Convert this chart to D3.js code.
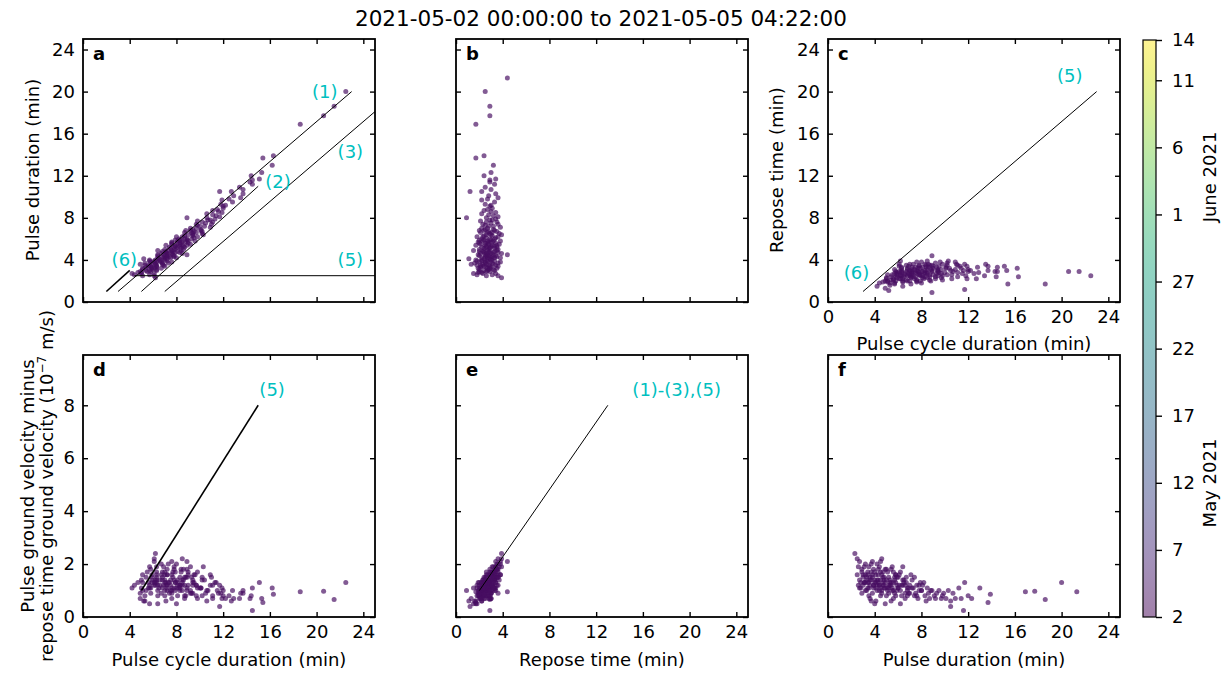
<!DOCTYPE html>
<html>
<head>
<meta charset="utf-8">
<script src="https://cdn.jsdelivr.net/npm/d3@7"></script>
<style>
  body { margin: 0; background: #fff; }
  svg { font-family: "DejaVu Sans", Verdana, sans-serif; }
</style>
</head>
<body>
<svg id="chart" width="1231" height="677"></svg>
<script>
// ---- data (one entry per pulse cycle) ----
const pulseDuration = [
  2.3, 2.5, 2.6, 2.7, 2.8, 2.7, 2.9, 3.0, 2.6, 2.9, 2.5, 2.8, 3.0, 2.9, 2.7,
  3.1, 3.2, 3.3, 3.4, 3.5, 3.6, 3.7, 3.8, 3.9, 3.1, 3.2, 3.3, 3.4, 3.5, 3.6, 3.7, 3.8, 3.9,
  3.0, 3.2, 3.4, 3.6, 3.8, 3.3, 3.5, 3.7, 3.9, 3.1, 3.6, 3.4, 3.8, 3.2, 3.7, 3.5, 3.9,
  4.0, 4.1, 4.2, 4.3, 4.4, 4.5, 4.6, 4.7, 4.8, 4.9, 4.0, 4.1, 4.2, 4.3, 4.4, 4.5, 4.6, 4.7, 4.8, 4.9,
  4.0, 4.2, 4.4, 4.6, 4.8, 4.1, 4.3, 4.5, 4.7, 4.9, 4.0, 4.2, 4.4, 4.6, 4.8, 4.3, 4.5, 4.7, 4.9, 4.1,
  5.0, 5.1, 5.2, 5.3, 5.4, 5.5, 5.6, 5.7, 5.8, 5.9, 5.0, 5.1, 5.2, 5.3, 5.4, 5.5, 5.6, 5.7, 5.8, 5.9,
  5.0, 5.2, 5.4, 5.6, 5.8, 5.1, 5.3, 5.5, 5.7, 5.9, 4.5, 5.2, 5.4, 5.6, 5.8,
  6.0, 6.1, 6.2, 6.3, 6.4, 6.5, 6.6, 6.7, 6.8, 6.9, 6.0, 6.2, 6.4, 6.6, 6.8,
  6.1, 6.3, 6.5, 6.7, 6.9, 6.2, 6.4, 6.6, 6.8, 6.0,
  7.0, 7.2, 7.4, 7.6, 7.8, 7.1, 7.3, 7.5, 7.7, 7.9, 7.0, 7.2, 7.4, 7.6, 7.8,
  8.0, 8.2, 8.4, 8.6, 8.8, 8.1, 8.3, 8.5, 8.7, 8.9,
  9.1, 9.3, 9.5, 9.7, 9.9, 9.2, 9.8,
  10.1, 10.3, 10.5, 10.7, 10.9,
  11.2, 11.4, 11.6, 11.7, 12.0, 12.3,
  13.0, 13.7, 13.9, 16.9, 17.7, 18.6, 20.0, 21.3, 8.0, 10.5
];
const reposeTime = [
  3.9, 2.6, 1.8, 3.4, 2.2, 1.5, 2.9, 2.4, 3.1, 2.0, 3.6, 1.9, 3.3, 2.6, 2.3,
  2.8, 3.5, 2.1, 2.9, 1.8, 3.2, 2.5, 3.8, 2.2, 2.0, 2.7, 3.0, 2.4, 3.4, 2.6, 1.6, 2.9, 3.3,
  2.7, 1.9, 3.6, 2.3, 2.0, 2.6, 2.8, 3.1, 2.7, 3.2, 1.3, 2.2, 2.5, 2.9, 3.6, 2.1, 1.8,
  2.6, 3.1, 2.2, 3.5, 2.8, 1.9, 3.0, 2.4, 3.3, 2.7, 1.7, 2.9, 3.8, 2.5, 2.0, 3.2, 2.6, 3.6, 2.3, 1.5,
  3.0, 2.7, 3.4, 2.1, 2.9, 2.4, 3.1, 2.5, 2.8, 3.5, 2.2, 3.3, 2.6, 3.9, 2.0, 2.9, 2.7, 3.2, 2.4, 1.1,
  2.8, 3.3, 2.2, 3.0, 2.5, 3.7, 2.7, 1.9, 3.2, 2.4, 2.0, 2.9, 3.5, 2.6, 3.1, 2.1, 3.4, 2.8, 2.3, 3.0,
  3.6, 2.9, 1.7, 2.5, 3.8, 2.4, 3.3, 2.8, 3.1, 2.0, 4.4, 2.6, 3.5, 2.0, 2.7,
  2.9, 3.4, 2.3, 3.1, 2.6, 3.7, 2.1, 2.8, 3.3, 2.5, 2.2, 3.6, 3.0, 2.7, 2.0,
  2.6, 2.4, 2.9, 3.5, 3.2, 1.8, 3.9, 3.1, 2.4, 3.3,
  2.7, 3.2, 2.3, 3.5, 2.9, 3.8, 2.5, 3.0, 2.1, 3.4, 2.2, 2.8, 3.6, 2.6, 3.1,
  2.6, 3.2, 2.2, 3.0, 2.7, 3.6, 2.8, 3.4, 2.4, 3.1,
  2.9, 2.5, 3.3, 2.2, 3.6, 3.0, 2.7,
  2.8, 3.4, 2.2, 3.0, 2.5,
  3.3, 2.9, 2.9, 3.4, 2.4, 3.0,
  3.2, 1.7, 2.4, 1.7, 2.9, 2.9, 2.5, 4.4, 0.9, 1.2
];
const cycleDuration = [
  6.2, 5.1, 4.4, 6.1, 5.0, 4.2, 5.8, 5.4, 5.7, 4.9, 6.1, 4.7, 6.3, 5.5, 5.0,
  5.9, 6.7, 5.4, 6.3, 5.3, 6.8, 6.2, 7.6, 6.1, 5.1, 5.9, 6.3, 5.8, 6.9, 6.2, 5.3, 6.7, 7.2,
  5.7, 5.1, 7.0, 5.9, 5.8, 5.9, 6.3, 6.8, 6.6, 6.3, 4.9, 5.6, 6.3, 6.1, 7.3, 5.6, 5.7,
  6.6, 7.2, 6.4, 7.8, 7.2, 6.4, 7.6, 7.1, 8.1, 7.6, 5.7, 7.0, 8.0, 6.8, 6.4, 7.7, 7.2, 8.3, 7.1, 6.4,
  7.0, 6.9, 7.8, 6.7, 7.7, 6.5, 7.4, 7.0, 7.5, 8.4, 6.2, 7.5, 7.0, 8.5, 6.8, 7.2, 7.2, 7.9, 7.3, 5.2,
  7.8, 8.4, 7.4, 8.3, 7.9, 9.2, 8.3, 7.6, 9.0, 8.3, 7.0, 8.0, 8.7, 7.9, 8.5, 7.6, 9.0, 8.5, 8.1, 8.9,
  8.6, 8.1, 7.1, 8.1, 9.6, 7.5, 8.6, 8.3, 8.8, 7.9, 8.9, 7.8, 8.9, 7.6, 8.5,
  8.9, 9.5, 8.5, 9.4, 9.0, 10.2, 8.7, 9.5, 10.1, 9.4, 8.2, 9.8, 9.4, 9.3, 8.8,
  8.7, 8.7, 9.4, 10.2, 10.1, 8.0, 10.3, 9.7, 9.2, 9.3,
  9.7, 10.4, 9.7, 11.1, 10.7, 10.9, 9.8, 10.5, 9.8, 11.3, 9.2, 10.0, 11.0, 10.2, 10.9,
  10.6, 11.4, 10.6, 11.6, 11.5, 11.7, 11.1, 11.9, 11.1, 12.0,
  12.0, 11.8, 12.8, 11.9, 13.5, 12.2, 12.5,
  12.9, 13.7, 12.7, 13.7, 13.4,
  14.5, 14.3, 14.5, 15.1, 14.4, 15.3,
  16.2, 15.4, 16.3, 18.6, 20.6, 21.5, 22.5, 25.7, 8.9, 11.7
];
// pulse ground velocity minus repose-time ground velocity, 1e-7 m/s
const velocityDiff = [
  2.4, 1.6, 1.2, 2.1, 1.1, 1.1, 1.8, 1.5, 1.9, 0.9, 2.2, 1.3, 1.6, 1.7, 1.4,
  1.3, 2.0, 1.0, 1.7, 0.8, 1.5, 1.4, 2.1, 1.2, 1.3, 1.6, 1.4, 1.1, 1.9, 1.2, 0.6, 1.6, 1.8,
  1.2, 1.0, 1.6, 1.4, 0.9, 1.5, 1.3, 1.7, 1.2, 1.9, 0.7, 1.3, 1.5, 1.3, 2.0, 1.1, 1.1,
  1.4, 1.6, 1.0, 1.8, 1.2, 0.8, 1.6, 1.3, 1.4, 1.1, 0.5, 1.3, 2.0, 1.4, 1.2, 1.7, 1.0, 1.5, 1.2, 0.5,
  1.7, 1.2, 1.9, 0.9, 1.5, 1.1, 1.3, 1.4, 1.2, 1.8, 1.3, 1.4, 1.0, 2.2, 1.1, 1.6, 1.1, 1.7, 1.3, 0.6,
  1.4, 1.7, 0.9, 1.2, 1.3, 1.9, 1.0, 0.9, 1.6, 1.2, 0.8, 1.1, 1.5, 1.3, 1.2, 1.0, 1.7, 1.4, 0.8, 1.5,
  1.8, 1.2, 0.6, 1.3, 1.6, 1.0, 1.4, 1.1, 1.5, 1.0, 2.1, 1.1, 1.8, 0.7, 1.3,
  1.1, 1.6, 1.0, 1.2, 1.2, 1.4, 0.7, 1.3, 1.1, 0.9, 1.1, 1.7, 1.4, 0.9, 0.8,
  1.2, 0.8, 1.3, 1.5, 1.1, 0.5, 1.9, 1.2, 1.0, 1.5,
  1.2, 1.4, 0.8, 1.2, 1.0, 1.6, 1.1, 0.9, 0.7, 1.3, 0.9, 1.1, 1.5, 0.8, 1.2,
  1.0, 1.3, 0.6, 0.9, 1.0, 1.2, 0.8, 1.1, 0.7, 1.0,
  0.8, 0.9, 1.0, 0.7, 0.9, 0.7, 0.8,
  0.7, 1.0, 0.6, 0.9, 0.7,
  1.1, 0.7, 0.25, 1.3, 0.8, 0.7,
  1.1, 0.55, 0.86, 0.95, 0.97, 0.66, 1.3, 0.95, 1.0, 0.4
];

const windowStart = "2021-05-02 00:00:00";
const windowEnd = "2021-05-05 04:22:00";

const xTicks = [0, 4, 8, 12, 16, 20, 24];
const durationTicks = [0, 4, 8, 12, 16, 20, 24];
const velocityTicks = [0, 2, 4, 6, 8];
const colorbarTicks = ["2021-05-02", "2021-05-07", "2021-05-12", "2021-05-17", "2021-05-22",
                       "2021-05-27", "2021-06-01", "2021-06-06", "2021-06-11", "2021-06-14"];
const colorbarRange = ["2021-05-02", "2021-06-14"];

// guide lines, in data units of each panel
const guidesA = [[[3, 1], [23, 20]], [[5, 1], [15, 11]], [[7, 1], [25, 18.1]], [[4.4, 2.5], [25, 2.5]], [[2, 1], [4, 3]]];
const guidesC = [[[3, 1], [23, 20]]];
const guidesD = [[[5, 1], [15, 8]]];
const guidesE = [[[2, 1], [13, 8]]];

const notesA = [["(1)", 19.6, 20.0], ["(2)", 15.6, 11.5], ["(3)", 21.8, 14.3], ["(5)", 21.8, 4.0], ["(6)", 2.45, 4.0]];
const notesC = [["(5)", 19.6, 21.5], ["(6)", 1.35, 2.8]];
const notesD = [["(5)", 15.1, 8.6]];
const notesE = [["(1)-(3),(5)", 15.1, 8.6]];

// ---- layout ----
const COL_LEFT = [83, 456, 828];
const PANEL_W = 292;
const ROW_BOX = [{ top: 39, bottom: 302 }, { top: 355, bottom: 617 }];
const TICK_FONT = 18;
const CYAN = '#00bfbf';

const svg = d3.select('#chart');
const parseDay = d3.timeParse('%Y-%m-%d');
const parseFull = d3.timeParse('%Y-%m-%d %H:%M:%S');

const colorScale = d3.scaleSequential(d3.interpolateViridis)
    .domain(colorbarRange.map(parseDay));
const t0 = parseFull(windowStart), t1 = parseFull(windowEnd);
const pointColor = colorScale(new Date((+t0 + +t1) / 2));

const series = { cycle: cycleDuration, pulse: pulseDuration, repose: reposeTime, velocity: velocityDiff };

const panels = [
    { letter: 'a', col: 0, row: 0, xKey: 'cycle',  yKey: 'pulse',    xLab: false, yLab: true,  guides: guidesA, notes: notesA },
    { letter: 'b', col: 1, row: 0, xKey: 'repose', yKey: 'pulse',    xLab: false, yLab: false, guides: [],      notes: [] },
    { letter: 'c', col: 2, row: 0, xKey: 'cycle',  yKey: 'repose',   xLab: true,  yLab: true,  guides: guidesC, notes: notesC },
    { letter: 'd', col: 0, row: 1, xKey: 'cycle',  yKey: 'velocity', xLab: true,  yLab: true,  guides: guidesD, notes: notesD },
    { letter: 'e', col: 1, row: 1, xKey: 'repose', yKey: 'velocity', xLab: true,  yLab: false, guides: guidesE, notes: notesE },
    { letter: 'f', col: 2, row: 1, xKey: 'pulse',  yKey: 'velocity', xLab: true,  yLab: false, guides: [],      notes: [] }
];

function styleAxis (g) {
    g.select('.domain').remove();
    g.selectAll('.tick line').attr('stroke', '#000').attr('stroke-width', 1.4);
    g.selectAll('.tick text')
        .attr('font-family', '"DejaVu Sans", Verdana, sans-serif')
        .attr('font-size', TICK_FONT)
        .attr('fill', '#000');
}

panels.forEach(p => {
    let left = COL_LEFT[p.col];
    let box = ROW_BOX[p.row];

    let x = d3.scaleLinear().domain([0, 25]).range([left, left + PANEL_W]);
    let y = d3.scaleLinear()
        .domain(p.row === 0 ? [0, 25] : [0, 9.9])
        .range([box.bottom, box.top]);
    let yTicks = p.row === 0 ? durationTicks : velocityTicks;

    let g = svg.append('g');
    let clipId = 'clip-' + p.letter;

    g.append('clipPath').attr('id', clipId)
        .append('rect')
        .attr('x', left).attr('y', box.top)
        .attr('width', PANEL_W).attr('height', box.bottom - box.top);

    // points
    let xs = series[p.xKey], ys = series[p.yKey];
    g.append('g')
        .attr('clip-path', `url(#${clipId})`)
        .selectAll('circle')
        .data(d3.range(xs.length))
        .join('circle')
        .attr('cx', i => x(xs[i]))
        .attr('cy', i => y(ys[i]))
        .attr('r', 2.5)
        .attr('fill', pointColor)
        .attr('fill-opacity', 0.68);

    // guide lines
    let line = d3.line().x(d => x(d[0])).y(d => y(d[1]));
    g.append('g')
        .attr('clip-path', `url(#${clipId})`)
        .selectAll('path')
        .data(p.guides)
        .join('path')
        .attr('d', line)
        .attr('fill', 'none')
        .attr('stroke', '#000')
        .attr('stroke-width', (d, i) => (p.letter === 'd' || (p.letter === 'a' && i === 4)) ? 1.6 : 1);

    // cyan labels
    g.selectAll('text.note')
        .data(p.notes)
        .join('text')
        .attr('class', 'note')
        .attr('x', d => x(d[1]))
        .attr('y', d => y(d[2]))
        .attr('dy', '0.36em')
        .attr('fill', CYAN)
        .attr('font-size', TICK_FONT)
        .text(d => d[0]);

    // axes, ticks pointing inward on every side
    g.append('g')
        .attr('transform', `translate(0,${box.bottom})`)
        .call(d3.axisBottom(x).tickValues(xTicks).tickSizeInner(-5).tickSizeOuter(0).tickPadding(8)
            .tickFormat(p.xLab ? d3.format('d') : ''))
        .call(styleAxis);
    g.append('g')
        .attr('transform', `translate(0,${box.top})`)
        .call(d3.axisTop(x).tickValues(xTicks).tickSizeInner(-5).tickSizeOuter(0).tickFormat(''))
        .call(styleAxis);
    g.append('g')
        .attr('transform', `translate(${left},0)`)
        .call(d3.axisLeft(y).tickValues(yTicks).tickSizeInner(-5).tickSizeOuter(0).tickPadding(8)
            .tickFormat(p.yLab ? d3.format('d') : ''))
        .call(styleAxis);
    g.append('g')
        .attr('transform', `translate(${left + PANEL_W},0)`)
        .call(d3.axisRight(y).tickValues(yTicks).tickSizeInner(-5).tickSizeOuter(0).tickFormat(''))
        .call(styleAxis);

    // frame
    g.append('rect')
        .attr('x', left).attr('y', box.top)
        .attr('width', PANEL_W).attr('height', box.bottom - box.top)
        .attr('fill', 'none')
        .attr('stroke', '#000')
        .attr('stroke-width', 1.8);

    // panel letter
    g.append('text')
        .attr('x', left + 10)
        .attr('y', box.top + 21)
        .attr('font-size', 18)
        .attr('font-weight', 'bold')
        .text(p.letter);
});

// ---- axis titles ----
function yTitle (xPos, yPos, str) {
    return svg.append('text')
        .attr('transform', `translate(${xPos},${yPos}) rotate(-90)`)
        .attr('text-anchor', 'middle')
        .attr('font-size', TICK_FONT)
        .text(str);
}
function xTitle (xPos, yPos, str) {
    svg.append('text')
        .attr('x', xPos).attr('y', yPos)
        .attr('text-anchor', 'middle')
        .attr('font-size', TICK_FONT)
        .text(str);
}

yTitle(39, 170, 'Pulse duration (min)');
yTitle(783, 170, 'Repose time (min)');
yTitle(34, 486, 'Pulse ground velocity minus');
let vLabel = yTitle(53, 486, 'repose time ground velocity (10');
vLabel.append('tspan').attr('baseline-shift', 'super').attr('font-size', 12).text('\u22127');
vLabel.append('tspan').text(' m/s)');

xTitle(974, 350, 'Pulse cycle duration (min)');
xTitle(229, 666, 'Pulse cycle duration (min)');
xTitle(602, 666, 'Repose time (min)');
xTitle(974, 666, 'Pulse duration (min)');

svg.append('text')
    .attr('x', 601).attr('y', 26)
    .attr('text-anchor', 'middle')
    .attr('font-size', 21.5)
    .text(`${windowStart} to ${windowEnd}`);

// ---- colour bar ----
const CB_X = 1143, CB_W = 13, CB_TOP = 40, CB_BOTTOM = 617;
const cbScale = d3.scaleTime()
    .domain(colorbarRange.map(parseDay))
    .range([CB_BOTTOM, CB_TOP]);

const grad = svg.append('defs').append('linearGradient')
    .attr('id', 'cb-grad')
    .attr('x1', 0).attr('y1', 1).attr('x2', 0).attr('y2', 0);
grad.selectAll('stop')
    .data(d3.range(0, 1.0001, 0.05))
    .join('stop')
    .attr('offset', d => d)
    .attr('stop-color', d => d3.interpolateViridis(d))
    .attr('stop-opacity', 0.5);

svg.append('rect')
    .attr('x', CB_X).attr('y', CB_TOP)
    .attr('width', CB_W).attr('height', CB_BOTTOM - CB_TOP)
    .attr('fill', 'url(#cb-grad)')
    .attr('stroke', '#000')
    .attr('stroke-width', 1.2);

svg.append('g')
    .attr('transform', `translate(${CB_X + CB_W},0)`)
    .call(d3.axisRight(cbScale)
        .tickValues(colorbarTicks.map(parseDay))
        .tickSizeOuter(0).tickSizeInner(6).tickPadding(10)
        .tickFormat(d3.timeFormat('%-d')))
    .call(styleAxis);

yTitle(1216, 177, 'June 2021');
yTitle(1216, 483, 'May 2021');
</script>
</body>
</html>
